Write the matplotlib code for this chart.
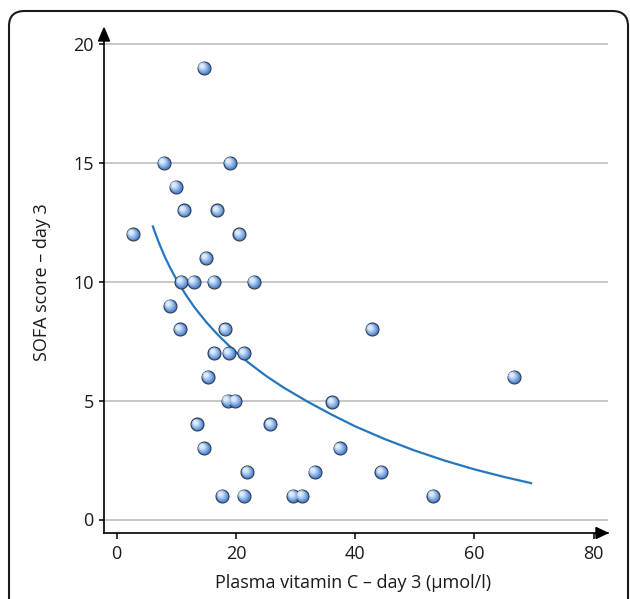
import numpy as np
import matplotlib
matplotlib.use("Agg")
import matplotlib.pyplot as plt
from matplotlib.patches import FancyBboxPatch, Polygon
from matplotlib.transforms import offset_copy
import matplotlib.colors as mcolors

# ---- data ----
vit_c = [14.6, 7.9, 19.0, 9.9, 11.3, 16.9, 2.7, 20.6, 15.0, 10.85, 12.9, 16.3, 23.0,
         8.95, 10.6, 18.2, 42.8, 16.4, 18.8, 21.35, 15.3, 66.6, 18.6, 19.9, 36.2,
         13.5, 25.8, 14.6, 37.4, 21.9, 33.2, 44.4, 17.7, 21.3, 29.6, 31.1, 53.1]
sofa = [19, 15, 15, 14, 13, 13, 12, 12, 11, 10, 10, 10, 10,
        9, 8, 8, 8, 7, 7, 7, 6, 6, 5, 5, 4.93,
        4, 4, 3, 3, 2, 2, 2, 1, 1, 1, 1, 1]

# fitted curve
curve_x = [6, 7, 8, 9, 10, 11.5, 13, 15, 17, 19.5, 22, 25, 28, 32, 36, 40, 45,
           50, 55, 60, 65, 69.7]
curve_y = [12.37, 11.69, 11.09, 10.57, 10.11, 9.49, 8.94, 8.31, 7.76, 7.15, 6.62,
           6.05, 5.55, 4.96, 4.42, 3.92, 3.38, 2.9, 2.48, 2.11, 1.79, 1.52]

x_ticks = [0, 20, 40, 60, 80]
y_ticks = [0, 5, 10, 15, 20]
x_label = "Plasma vitamin C – day 3 (μmol/l)"
y_label = "SOFA score – day 3"

W, H = 630, 599
plt.rcParams['font.family'] = ['Open Sans', 'DejaVu Sans']
fig = plt.figure(figsize=(W / 100, H / 100), dpi=100)

def fx(px):
    return px / W

def fy(py):
    return 1 - py / H

# rounded frame (extends beyond right/bottom edges)
frame = FancyBboxPatch((fx(9), fy(660)), fx(628) - fx(9), fy(11) - fy(660),
                       boxstyle="round,pad=0,rounding_size=0.025",
                       transform=fig.transFigure, facecolor='none',
                       edgecolor='#1a1a1a', linewidth=1.5, clip_on=False)
fig.patches.append(frame)

ax_l, ax_r, ax_b, ax_t = 104, 608, 533, 40
ax = fig.add_axes([fx(ax_l), fy(ax_b), fx(ax_r) - fx(ax_l), fy(ax_t) - fy(ax_b)])
ax.set_facecolor('none')

px_per_x = (593.5 - 116.7) / 80
px_per_y = (519.5 - 44) / 20
ax.set_xlim((ax_l - 116.7) / px_per_x, (ax_r - 116.7) / px_per_x)
ax.set_ylim((519.5 - ax_b) / px_per_y, (519.5 - ax_t) / px_per_y)

for s in ['top', 'right']:
    ax.spines[s].set_visible(False)
for s in ['left', 'bottom']:
    ax.spines[s].set_linewidth(1.2)
    ax.spines[s].set_color('black')

ax.set_xticks(x_ticks)
ax.set_yticks(y_ticks)
ax.tick_params(axis='both', direction='out', width=1.1, color='black',
               labelsize=13, labelcolor='#1a1a1a')
ax.tick_params(axis='x', length=4.5, pad=4)
ax.tick_params(axis='y', length=3.5, pad=4)

for yt in y_ticks:
    ax.axhline(yt, color='#c8c8c8', linewidth=1.4, zorder=1)

# arrows
fig.patches.append(Polygon([(fx(98.5), fy(41)), (fx(109.5), fy(41)), (fx(104), fy(28))],
                           closed=True, transform=fig.transFigure, color='black'))
fig.patches.append(Polygon([(fx(596), fy(527.5)), (fx(596), fy(538.5)), (fx(607.5), fy(533))],
                           closed=True, transform=fig.transFigure, color='black'))

# fitted curve
ax.plot(curve_x, curve_y, color='#2477bd', linewidth=1.6, zorder=2,
        solid_capstyle='butt', solid_joinstyle='round')

# spheres
d_px = 13
to_pt = 72 / 100
ax.scatter(vit_c, sofa, s=(d_px * to_pt) ** 2, facecolor='#5387cf',
           edgecolor='#2b3444', linewidth=0.75, zorder=3)
c0 = np.array(mcolors.to_rgb('#6195da'))
c1 = np.array(mcolors.to_rgb('#dce9f9'))
n = 12
for i in range(1, n + 1):
    t = i / n
    d = (d_px - 1.7) * (1 - 0.62 * t)
    off = 1.8 * t
    col = c0 * (1 - t) + c1 * t
    tr = offset_copy(ax.transData, fig=fig, x=-off, y=off, units='dots')
    ax.scatter(vit_c, sofa, s=(d * to_pt) ** 2, facecolor=col, edgecolor='none',
               linewidth=0, zorder=3 + i * 0.01, transform=tr)

fig.text(fx(42), fy(282), y_label, rotation=90, ha='center', va='center',
         fontsize=13, color='#1a1a1a')
fig.text(fx(353), fy(583), x_label, ha='center', va='center',
         fontsize=13, color='#1a1a1a')

fig.savefig('out.png', dpi=100)
